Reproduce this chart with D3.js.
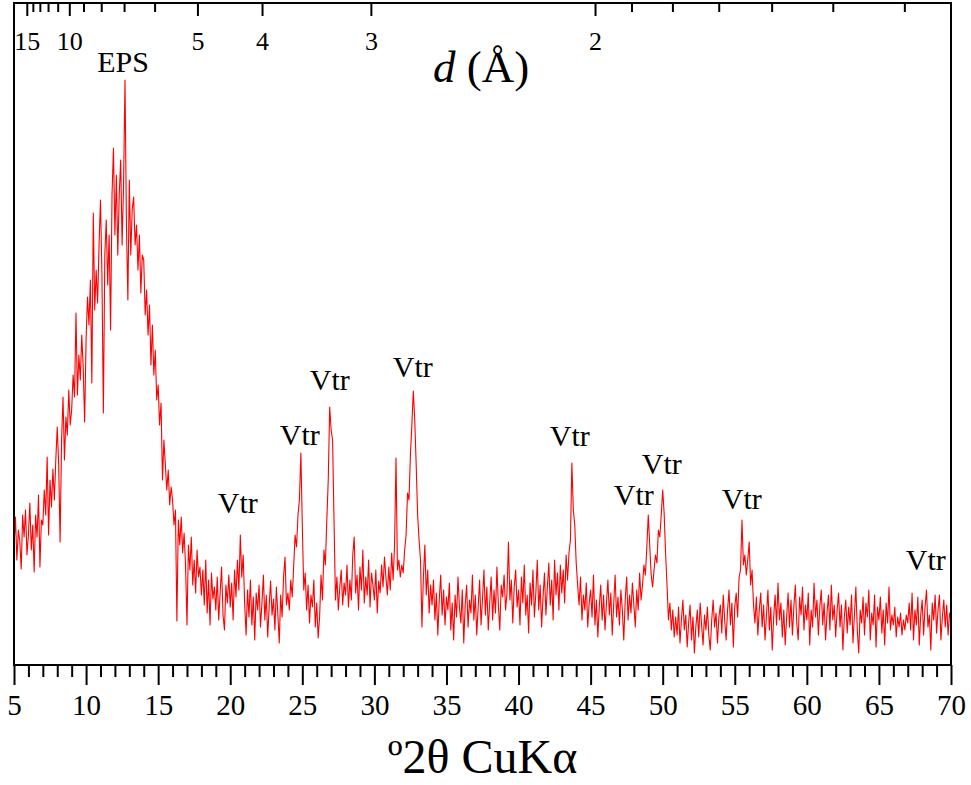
<!DOCTYPE html>
<html>
<head>
<meta charset="utf-8">
<script src="https://cdn.jsdelivr.net/npm/d3@7"></script>
<style>
  body { margin: 0; background: #fff; }
  text { font-family: "Liberation Serif", "Times New Roman", serif; fill: #000; }
</style>
</head>
<body>
<div id="xrd"></div>
<script>
// scan: 2theta 5..70 deg, step 0.1 deg (one row = one degree)
const startAngle = 5, stepAngle = 0.1;
const intensity = [
  118,148,105,135,124,96,150,128,155,110,
  130,162,115,140,93,150,128,170,98,145,
  140,175,150,208,130,185,158,196,165,205,
  238,200,123,225,268,205,248,230,275,240,
  255,290,268,352,270,310,285,330,298,243,
  325,368,340,385,282,452,355,395,362,420,
  465,390,252,410,445,380,430,335,470,517,
  430,490,410,470,505,420,480,585,440,365,
  485,410,455,468,420,440,395,430,372,410,
  405,350,375,330,360,300,340,290,315,265,
  280,240,262,185,225,200,175,195,160,178,
  165,140,155,44,145,120,148,112,132,100,
  40,120,95,128,80,105,72,115,88,98,
  70,95,60,105,52,85,40,92,66,78,
  55,88,45,72,98,50,35,80,62,90,
  58,82,45,95,68,105,75,130,88,110,
  62,30,75,48,85,40,68,25,72,55,
  80,38,62,90,45,70,28,58,84,50,
  66,35,78,52,22,70,48,88,108,60,
  72,55,85,68,98,130,118,150,165,212,
  140,75,92,55,80,42,70,58,85,38,
  62,27,48,90,65,115,100,145,185,258,
  235,225,145,65,88,55,78,95,60,82,
  70,100,58,85,65,110,128,72,90,55,
  98,75,115,62,88,70,105,58,92,80,
  65,95,52,84,72,100,78,108,88,70,
  98,75,112,85,120,207,95,105,88,100,
  92,115,130,172,165,210,240,274,245,200,
  150,125,105,38,88,120,70,95,52,80,
  60,85,45,72,30,65,90,50,75,40,
  68,55,82,35,62,25,70,48,88,58,
  42,75,22,60,80,38,65,52,90,45,
  70,30,58,85,40,66,95,50,78,35,
  62,88,45,75,52,98,60,35,80,68,
  90,55,72,123,65,85,42,78,95,58,
  75,40,88,62,100,50,70,32,82,60,
  95,48,72,105,55,80,38,68,92,50,
  78,102,60,85,45,105,70,92,55,100,
  72,95,62,110,85,112,125,202,155,140,
  102,80,60,88,45,70,55,82,38,62,
  75,48,90,40,65,28,58,80,45,70,
  35,62,85,50,72,30,60,90,48,68,
  40,75,55,25,65,88,45,70,52,82,
  60,38,75,55,92,65,80,100,90,118,
  150,120,90,78,95,110,102,135,128,150,
  175,152,112,80,45,62,35,55,28,48,
  30,58,22,45,65,35,50,18,42,60,
  25,48,12,38,55,28,62,40,20,50,
  35,58,30,15,45,65,38,52,22,48,
  60,32,70,45,25,55,75,40,62,18,
  58,72,48,88,95,145,100,110,90,105,
  123,80,95,60,42,68,30,55,72,38,
  60,25,50,75,35,58,15,48,70,40,
  82,45,62,28,55,20,48,72,38,65,
  30,58,80,42,25,68,50,78,35,60,
  45,72,20,55,38,82,48,65,30,58,
  75,40,62,25,52,70,35,80,45,60,
  28,55,72,38,60,15,48,65,32,58,
  40,70,22,50,78,35,12,55,42,68,
  30,62,48,75,25,52,40,70,18,58,
  45,68,32,55,20,62,42,78,35,50,
  40,58,28,48,38,52,30,45,35,50,
  42,62,35,72,25,55,40,68,20,50,
  65,30,58,75,38,50,15,62,45,70,
  32,55,70,25,48,65,38,60,30,52,
  45
];

// top axis: d-spacing (Å) for Cu Ka
const wavelength = 1.5406;
const dTicks = [15, 14, 13, 12, 11, 10, 9, 8, 7, 6, 5, 4, 3, 2, 1.9, 1.8, 1.7, 1.6, 1.5, 1.4];
const dLabels = [15, 10, 5, 4, 3, 2];

const majorTicks = [5, 10, 15, 20, 25, 30, 35, 40, 45, 50, 55, 60, 65, 70];
const minorTicks = d3.range(6, 70).filter(v => v % 5 !== 0);

// peak labels: text, 2theta of label centre, intensity at label baseline
const peakNames = ["EPS", "Vtr", "Vtr", "Vtr", "Vtr", "Vtr", "Vtr", "Vtr", "Vtr", "Vtr"];
const peakAngles = [12.56, 20.53, 24.83, 26.91, 32.67, 43.56, 48.0, 49.94, 55.49, 68.25];
const peakLevels = [593, 152, 220, 275, 288, 219, 160, 191, 156, 95];

const margin = {top: 3, right: 20, bottom: 120, left: 14},
    width = 971 - margin.left - margin.right,
    height = 785 - margin.top - margin.bottom;

const x = d3.scaleLinear().domain([5, 70]).range([0, width]);
const y = d3.scaleLinear().domain([0, 662]).range([height, 0]);

const svg = d3.select("#xrd").append("svg")
    .attr("width", 971)
    .attr("height", 785)
  .append("g")
    .attr("transform", "translate(" + margin.left + "," + margin.top + ")");

// pattern
const line = d3.line()
    .x((d, i) => x(startAngle + i * stepAngle))
    .y(d => y(d));

svg.append("path")
    .datum(intensity)
    .attr("fill", "none")
    .attr("stroke", "#ff0000")
    .attr("stroke-width", 1.1)
    .attr("stroke-linejoin", "round")
    .attr("d", line);

// bottom axis, minor then major ticks
svg.append("g")
    .attr("transform", "translate(0," + height + ")")
    .call(d3.axisBottom(x).tickValues(minorTicks).tickSize(12).tickSizeOuter(0).tickFormat(""))
    .call(g => g.select(".domain").remove())
    .call(g => g.selectAll("line").attr("stroke", "#000").attr("stroke-width", 2));

svg.append("g")
    .attr("transform", "translate(0," + height + ")")
    .call(d3.axisBottom(x).tickValues(majorTicks).tickSize(20).tickSizeOuter(0).tickFormat(d3.format("d")))
    .call(g => g.select(".domain").remove())
    .call(g => g.selectAll("line").attr("stroke", "#000").attr("stroke-width", 2))
    .call(g => g.selectAll("text")
        .attr("y", 50).attr("dy", null)
        .style("font-size", "29px")
        .style("font-family", "'Liberation Serif', serif"));

// top axis in d spacing
const twoTheta = d => 2 * Math.asin(wavelength / (2 * d)) * 180 / Math.PI;

const topAxis = svg.append("g")
    .call(d3.axisBottom(x)
        .tickValues(dTicks.map(twoTheta))
        .tickSize(12)
        .tickSizeOuter(0)
        .tickFormat((v, i) => dLabels.includes(dTicks[i]) ? dTicks[i] : ""));
topAxis.select(".domain").remove();
topAxis.selectAll(".tick").each(function(v, i) {
  const t = d3.select(this);
  const labelled = dLabels.includes(dTicks[i]);
  t.select("line").attr("stroke", "#000").attr("stroke-width", 2).attr("y2", labelled ? 13 : 9);
  t.select("text").attr("y", 47).attr("dy", null)
      .style("font-size", "26px")
      .style("font-family", "'Liberation Serif', serif");
});

// frame
svg.append("rect")
    .attr("width", width)
    .attr("height", height)
    .attr("fill", "none")
    .attr("stroke", "#000")
    .attr("stroke-width", 2);

// peak labels
svg.selectAll(".peak")
    .data(peakNames)
    .enter().append("text")
    .attr("class", "peak")
    .attr("x", (d, i) => x(peakAngles[i]))
    .attr("y", (d, i) => y(peakLevels[i]))
    .attr("text-anchor", "middle")
    .style("font-size", "30px")
    .text(d => d);

// axis titles
const dTitle = svg.append("text")
    .attr("x", x(37.4))
    .attr("y", 79)
    .attr("text-anchor", "middle")
    .style("font-size", "45px");
dTitle.append("tspan").style("font-style", "italic").text("d");
dTitle.append("tspan").text(" (Å)");

svg.append("text")
    .attr("x", width / 2)
    .attr("y", height + 108)
    .attr("text-anchor", "middle")
    .style("font-size", "48px")
    .text("º2θ CuKα");
</script>
</body>
</html>
